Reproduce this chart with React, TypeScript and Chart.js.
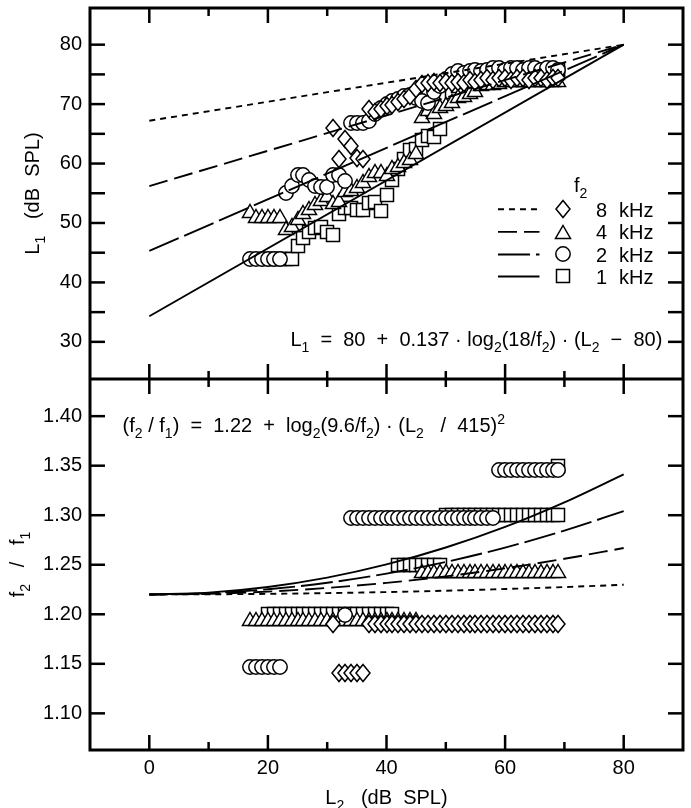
import React, { useEffect, useRef } from "react";
import { Chart, registerables } from "chart.js";

Chart.register(...registerables);

const FONT = '"Liberation Sans", Arial, Helvetica, sans-serif';

// ---------- axis ticks ----------
const xTickValues = [0, 10, 20, 30, 40, 50, 60, 70, 80];
const xTickLabels = ["0", "", "20", "", "40", "", "60", "", "80"];
const y1TickValues = [30, 35, 40, 45, 50, 55, 60, 65, 70, 75, 80];
const y1TickLabels = ["30", "", "40", "", "50", "", "60", "", "70", "", "80"];
const y2TickValues = [1.1, 1.15, 1.2, 1.25, 1.3, 1.35, 1.4];
const y2TickLabels = ["1.10", "1.15", "1.20", "1.25", "1.30", "1.35", "1.40"];

// ---------- top panel model lines (L1 vs L2) ----------
const lineL2 = [0, 80];
const line8kL1 = [67.2, 80];
const line4kL1 = [56.2, 80];
const line2kL1 = [45.3, 80];
const line1kL1 = [34.3, 80];

// ---------- bottom panel model curves (f2/f1 vs L2) ----------
const curveL2 = [0, 10, 20, 30, 40, 50, 60, 70, 80];
const curve8kRatio = [1.22, 1.2202, 1.2206, 1.2214, 1.2224, 1.2238, 1.2255, 1.2275, 1.2298];
const curve4kRatio = [1.22, 1.2207, 1.2229, 1.2266, 1.2317, 1.2383, 1.2464, 1.256, 1.2669];
const curve2kRatio = [1.22, 1.2213, 1.2253, 1.2318, 1.241, 1.2528, 1.2673, 1.2845, 1.3041];
const curve1kRatio = [1.22, 1.2219, 1.2276, 1.237, 1.2503, 1.2674, 1.2882, 1.313, 1.3413];

// ---------- 8 kHz (diamonds) ----------
const top8kL2 = [31, 32, 33, 34, 35, 36, 37, 38, 39, 40, 41, 42, 43, 44, 45, 46, 47, 48, 49, 50, 51, 52, 53, 54, 55, 56, 57, 58, 59, 60, 61, 62, 63, 64, 65, 66, 67, 68, 69];
const top8kL1 = [66.0, 60.8, 64.1, 63.0, 61.0, 60.8, 69.1, 68.6, 69.1, 69.7, 69.9, 70.3, 70.8, 71.3, 72.5, 73.3, 73.6, 73.8, 73.6, 73.8, 73.6, 73.8, 73.6, 74.1, 73.8, 74.1, 74.4, 74.1, 74.4, 74.4, 74.1, 74.4, 74.4, 74.1, 74.4, 74.4, 74.1, 74.4, 74.4];
const bot8kL2 = [31, 32, 33, 34, 35, 36, 37, 38, 39, 40, 41, 42, 43, 44, 45, 46, 47, 48, 49, 50, 51, 52, 53, 54, 55, 56, 57, 58, 59, 60, 61, 62, 63, 64, 65, 66, 67, 68, 69];
const bot8kRatio = [1.19, 1.141, 1.141, 1.141, 1.141, 1.141, 1.19, 1.19, 1.19, 1.19, 1.19, 1.19, 1.19, 1.19, 1.19, 1.19, 1.19, 1.19, 1.19, 1.19, 1.19, 1.19, 1.19, 1.19, 1.19, 1.19, 1.19, 1.19, 1.19, 1.19, 1.19, 1.19, 1.19, 1.19, 1.19, 1.19, 1.19, 1.19, 1.19];

// ---------- 4 kHz (triangles) ----------
const top4kL2 = [17, 18, 19, 20, 21, 22, 23, 24, 25, 26, 27, 28, 29, 30, 31, 32, 33, 34, 35, 36, 37, 38, 39, 40, 41, 42, 43, 44, 45, 46, 47, 48, 49, 50, 51, 52, 53, 54, 55, 56, 57, 58, 59, 60, 61, 62, 63, 64, 65, 66, 67, 68, 69];
const top4kL1 = [52.0, 51.1, 51.1, 51.1, 51.1, 51.1, 49.1, 49.7, 50.8, 51.9, 52.5, 53.3, 54.0, 54.7, 53.6, 53.8, 55.5, 55.8, 56.3, 57.0, 58.0, 58.8, 58.8, 58.3, 59.4, 59.7, 60.5, 61.0, 61.9, 68.0, 69.1, 68.6, 69.7, 70.0, 70.5, 71.3, 71.6, 72.0, 72.4, 73.3, 73.6, 73.6, 73.8, 74.1, 74.1, 74.1, 74.1, 74.1, 74.1, 74.1, 74.1, 74.1, 74.1];
const bot4kL2 = [17, 18, 19, 20, 21, 22, 23, 24, 25, 26, 27, 28, 29, 30, 31, 32, 33, 34, 35, 36, 37, 38, 39, 40, 41, 42, 43, 44, 45, 46, 47, 48, 49, 50, 51, 52, 53, 54, 55, 56, 57, 58, 59, 60, 61, 62, 63, 64, 65, 66, 67, 68, 69];
const bot4kRatio = [1.195, 1.195, 1.195, 1.195, 1.195, 1.195, 1.195, 1.195, 1.195, 1.195, 1.195, 1.195, 1.195, 1.195, 1.195, 1.195, 1.195, 1.195, 1.195, 1.195, 1.195, 1.195, 1.195, 1.195, 1.195, 1.195, 1.195, 1.195, 1.195, 1.244, 1.244, 1.244, 1.244, 1.244, 1.244, 1.244, 1.244, 1.244, 1.244, 1.244, 1.244, 1.244, 1.244, 1.244, 1.244, 1.244, 1.244, 1.244, 1.244, 1.244, 1.244, 1.244, 1.244];

// ---------- 2 kHz (circles) ----------
const top2kL2 = [17, 18, 19, 20, 21, 22, 23, 24, 25, 26, 27, 28, 29, 30, 31, 32, 33, 34, 35, 36, 37, 38, 39, 40, 41, 42, 43, 44, 45, 46, 47, 48, 49, 50, 51, 52, 53, 54, 55, 56, 57, 58, 59, 60, 61, 62, 63, 64, 65, 66, 67, 68, 69];
const top2kL1 = [44.0, 44.0, 44.0, 44.0, 44.0, 44.0, 55.0, 56.3, 58.0, 58.0, 57.2, 56.3, 56.0, 56.0, 58.0, 58.0, 57.0, 66.9, 66.9, 66.9, 67.2, 68.3, 69.4, 70.0, 70.5, 70.8, 71.3, 71.6, 71.0, 70.5, 70.2, 72.0, 73.0, 74.2, 75.0, 75.5, 75.2, 75.5, 75.8, 75.5, 75.8, 76.1, 76.1, 75.8, 76.1, 76.1, 75.8, 76.1, 76.1, 75.8, 76.1, 76.1, 75.8];
const bot2kL2 = [17, 18, 19, 20, 21, 22, 33, 34, 35, 36, 37, 38, 39, 40, 41, 42, 43, 44, 45, 46, 47, 48, 49, 50, 51, 52, 53, 54, 55, 56, 57, 58, 59, 60, 61, 62, 63, 64, 65, 66, 67, 68, 69];
const bot2kRatio = [1.147, 1.147, 1.147, 1.147, 1.147, 1.147, 1.199, 1.297, 1.297, 1.297, 1.297, 1.297, 1.297, 1.297, 1.297, 1.297, 1.297, 1.297, 1.297, 1.297, 1.297, 1.297, 1.297, 1.297, 1.297, 1.297, 1.297, 1.297, 1.297, 1.297, 1.297, 1.297, 1.346, 1.346, 1.346, 1.346, 1.346, 1.346, 1.346, 1.346, 1.346, 1.346, 1.346];

// ---------- 1 kHz (squares) ----------
const top1kL2 = [20, 21, 22, 23, 24, 25, 26, 27, 28, 29, 30, 31, 32, 33, 34, 35, 36, 37, 38, 39, 40, 41, 42, 43, 44, 45, 46, 47, 48, 49, 50, 51, 52, 53, 54, 55, 56, 57, 58, 59, 60, 61, 62, 63, 64, 65, 66, 67, 68, 69, 69];
const top1kL1 = [44.0, 44.0, 44.0, 44.0, 44.0, 46.1, 47.5, 48.4, 49.1, 49.3, 48.5, 48.0, 51.5, 52.6, 52.6, 52.2, 52.2, 53.3, 53.6, 52.0, 54.7, 57.2, 59.1, 60.8, 62.2, 62.4, 64.0, 64.7, 64.4, 65.8, 71.0, 72.0, 73.0, 73.8, 74.4, 74.7, 75.0, 75.0, 75.2, 75.2, 75.2, 75.2, 75.2, 75.2, 75.2, 75.2, 75.2, 75.2, 75.2, 75.2, 75.8];
const bot1kL2 = [20, 21, 22, 23, 24, 25, 26, 27, 28, 29, 30, 31, 32, 33, 34, 35, 36, 37, 38, 39, 40, 41, 42, 43, 44, 45, 46, 47, 48, 49, 50, 51, 52, 53, 54, 55, 56, 57, 58, 59, 60, 61, 62, 63, 64, 65, 66, 67, 68, 69, 69];
const bot1kRatio = [1.2, 1.2, 1.2, 1.2, 1.2, 1.2, 1.2, 1.2, 1.2, 1.2, 1.2, 1.2, 1.2, 1.2, 1.2, 1.2, 1.2, 1.2, 1.2, 1.2, 1.2, 1.2, 1.25, 1.25, 1.25, 1.25, 1.25, 1.25, 1.25, 1.25, 1.3, 1.3, 1.3, 1.3, 1.3, 1.3, 1.3, 1.3, 1.3, 1.3, 1.3, 1.3, 1.3, 1.3, 1.3, 1.3, 1.3, 1.3, 1.3, 1.3, 1.35];

// ---------- legend ----------
const legendDigits = ["8", "4", "2", "1"];
const legendUnit = "kHz";

type Seg = [string, number]; // 0 normal, 1 subscript, 2 superscript

const DASH8 = [6, 5];
const DASH4 = [19, 7];
const DASH2 = [32, 6];
const DASH1: number[] = [];

function makeMarker(kind: string): HTMLCanvasElement {
  const c = document.createElement("canvas");
  c.width = 20;
  c.height = 20;
  const g = c.getContext("2d")!;
  g.fillStyle = "#fff";
  g.strokeStyle = "#000";
  g.lineWidth = 1.5;
  g.beginPath();
  if (kind === "diamond") {
    g.moveTo(10, 1.5);
    g.lineTo(17, 10);
    g.lineTo(10, 18.5);
    g.lineTo(3, 10);
    g.closePath();
  } else if (kind === "triangle") {
    g.moveTo(10, 3.5);
    g.lineTo(17.5, 16.5);
    g.lineTo(2.5, 16.5);
    g.closePath();
  } else if (kind === "circle") {
    g.arc(10, 10, 7.2, 0, Math.PI * 2);
  } else {
    g.rect(3.5, 3.5, 13, 13);
  }
  g.fill();
  g.stroke();
  return c;
}

function fontFor(kind: number, size: number) {
  return `${kind ? Math.round(size * 0.7) : size}px ${FONT}`;
}

function drawRich(ctx: CanvasRenderingContext2D, segs: Seg[], x: number, y: number, size: number, align: string) {
  let w = 0;
  for (const [t, k] of segs) {
    ctx.font = fontFor(k, size);
    w += ctx.measureText(t).width;
  }
  let cx = align === "center" ? x - w / 2 : align === "right" ? x - w : x;
  ctx.textAlign = "left";
  ctx.textBaseline = "alphabetic";
  for (const [t, k] of segs) {
    ctx.font = fontFor(k, size);
    const dy = k === 1 ? 0.3 * size : k === 2 ? -0.42 * size : 0;
    ctx.fillText(t, cx, y + 0.36 * size + dy);
    cx += ctx.measureText(t).width;
  }
}

const pts = (xs: number[], ys: number[]) => xs.map((x, i) => ({ x, y: ys[i] }));

export default function App() {
  const ref = useRef<HTMLCanvasElement>(null);

  useEffect(() => {
    const diamond = makeMarker("diamond");
    const triangle = makeMarker("triangle");
    const circle = makeMarker("circle");
    const square = makeMarker("square");

    const lineDs = (xs: number[], ys: number[], dash: number[], axis: string, curve: boolean) => ({
      type: "line",
      data: pts(xs, ys),
      yAxisID: axis,
      borderColor: "#000",
      borderWidth: 1.9,
      borderDash: dash,
      pointRadius: 0,
      showLine: true,
      fill: false,
      tension: curve ? 0.4 : 0,
      cubicInterpolationMode: curve ? "monotone" : "default",
    });
    const markDs = (xs: number[], ys: number[], img: HTMLCanvasElement, axis: string) => ({
      type: "scatter",
      data: pts(xs, ys),
      yAxisID: axis,
      pointStyle: img,
      pointRadius: 7,
      showLine: false,
    });

    const datasets: any[] = [
      lineDs(lineL2, line8kL1, DASH8, "y", false),
      lineDs(lineL2, line4kL1, DASH4, "y", false),
      lineDs(lineL2, line2kL1, DASH2, "y", false),
      lineDs(lineL2, line1kL1, DASH1, "y", false),
      lineDs(curveL2, curve8kRatio, DASH8, "y2", true),
      lineDs(curveL2, curve4kRatio, DASH4, "y2", true),
      lineDs(curveL2, curve2kRatio, DASH2, "y2", true),
      lineDs(curveL2, curve1kRatio, DASH1, "y2", true),
      markDs(top8kL2, top8kL1, diamond, "y"),
      markDs(bot8kL2, bot8kRatio, diamond, "y2"),
      markDs(top2kL2, top2kL1, circle, "y"),
      markDs(bot2kL2, bot2kRatio, circle, "y2"),
      markDs(top4kL2, top4kL1, triangle, "y"),
      markDs(bot4kL2, bot4kRatio, triangle, "y2"),
      markDs(top1kL2, top1kL1, square, "y"),
      markDs(bot1kL2, bot1kRatio, square, "y2"),
    ];

    const decor = {
      id: "decor",
      beforeDatasetsDraw(chart: any) {
        chart.ctx.imageSmoothingEnabled = false;
      },
      afterDraw(chart: any) {
        const { ctx, chartArea: ca } = chart;
        const xs = chart.scales.x;
        const ys = chart.scales.y;
        const ys2 = chart.scales.y2;
        const mid = ys2.top;
        ctx.save();
        ctx.imageSmoothingEnabled = false;
        ctx.strokeStyle = "#000";
        ctx.fillStyle = "#000";
        const seg = (x1: number, y1: number, x2: number, y2: number) => {
          ctx.beginPath();
          ctx.moveTo(x1, y1);
          ctx.lineTo(x2, y2);
          ctx.stroke();
        };
        ctx.setLineDash([]);
        ctx.lineWidth = 2.5;
        xTickValues.forEach((v, i) => {
          const px = xs.getPixelForValue(v);
          const len = xTickLabels[i] ? 15 : 8;
          seg(px, ca.top, px, ca.top + len);
          seg(px, mid, px, mid - len);
          seg(px, mid, px, mid + len);
          seg(px, ca.bottom, px, ca.bottom - len);
        });
        y1TickValues.forEach((v) => {
          const py = ys.getPixelForValue(v);
          seg(ca.left, py, ca.left + 15, py);
          seg(ca.right, py, ca.right - 15, py);
        });
        y2TickValues.forEach((v) => {
          const py = ys2.getPixelForValue(v);
          seg(ca.left, py, ca.left + 15, py);
          seg(ca.right, py, ca.right - 15, py);
        });
        ctx.lineWidth = 3;
        ctx.strokeRect(ca.left, ca.top, ca.right - ca.left, ca.bottom - ca.top);
        seg(ca.left, mid, ca.right, mid);

        // axis titles
        const midTop = (ys.top + ys.bottom) / 2;
        const midBot = (ys2.top + ys2.bottom) / 2;
        ctx.save();
        ctx.translate(32, midTop);
        ctx.rotate(-Math.PI / 2);
        drawRich(ctx, [["L", 0], ["1", 1], ["   (dB  SPL)", 0]], 0, 0, 20, "center");
        ctx.restore();
        ctx.save();
        ctx.translate(17, midBot);
        ctx.rotate(-Math.PI / 2);
        drawRich(ctx, [["f", 0], ["2", 1], ["   /   f", 0], ["1", 1]], 0, 0, 20, "center");
        ctx.restore();
        drawRich(ctx, [["L", 0], ["2", 1], ["   (dB  SPL)", 0]], (ca.left + ca.right) / 2, 797, 20, "center");

        // formulas
        drawRich(
          ctx,
          [["L", 0], ["1", 1], ["  =  80  +  0.137 · log", 0], ["2", 1], ["(18/f", 0], ["2", 1], [") · (L", 0], ["2", 1], ["  −  80)", 0]],
          xs.getPixelForValue(23.8),
          ys.getPixelForValue(30.5),
          20,
          "left"
        );
        drawRich(
          ctx,
          [["(f", 0], ["2", 1], [" / f", 0], ["1", 1], [")  =  1.22  +  log", 0], ["2", 1], ["(9.6/f", 0], ["2", 1], [") · (L", 0], ["2", 1], ["   /  415)", 0], ["2", 2]],
          xs.getPixelForValue(-4.5),
          ys2.getPixelForValue(1.391),
          20,
          "left"
        );

        // legend
        drawRich(ctx, [["f", 0], ["2", 1]], xs.getPixelForValue(71.6), ys.getPixelForValue(56.5), 20, "left");
        const rows = [52.3, 48.5, 44.7, 41.0];
        const dashes = [DASH8, DASH4, DASH2, DASH1];
        const marks = [diamond, triangle, circle, square];
        rows.forEach((rv, i) => {
          const py = ys.getPixelForValue(rv);
          ctx.lineWidth = 1.9;
          ctx.setLineDash(dashes[i]);
          seg(xs.getPixelForValue(58.8), py, xs.getPixelForValue(65.8), py);
          ctx.setLineDash([]);
          const mx = xs.getPixelForValue(69.7);
          ctx.drawImage(marks[i], Math.round(mx) - 10, Math.round(py) - 10);
          drawRich(ctx, [[legendDigits[i], 0]], xs.getPixelForValue(77.2), py, 20, "right");
          drawRich(ctx, [[legendUnit, 0]], xs.getPixelForValue(79.2), py, 20, "left");
        });
        ctx.restore();
      },
    };

    const noPad = (s: any) => {
      s.paddingTop = 0;
      s.paddingBottom = 0;
      s.paddingLeft = 0;
      s.paddingRight = 0;
    };

    const chart = new Chart(ref.current!, {
      type: "scatter",
      data: { datasets },
      options: {
        responsive: false,
        animation: false,
        events: [],
        layout: { padding: { top: 1, right: 3, left: 0, bottom: 0 } },
        plugins: { legend: { display: false }, tooltip: { enabled: false } },
        scales: {
          x: {
            type: "linear",
            position: "bottom",
            min: -10,
            max: 90,
            grid: { display: false, drawTicks: false },
            border: { display: false },
            afterBuildTicks: (s: any) => {
              s.ticks = xTickValues.map((v) => ({ value: v }));
            },
            afterFit: (s: any) => {
              s.height = 58;
              noPad(s);
            },
            ticks: {
              color: "#000",
              font: { family: FONT, size: 20 },
              padding: 6,
              maxRotation: 0,
              autoSkip: false,
              callback: (_v: any, i: number) => xTickLabels[i],
            },
          },
          y: {
            type: "linear",
            position: "left",
            stack: "panels",
            stackWeight: 1,
            weight: 2,
            min: 23.75,
            max: 86.17,
            grid: { display: false, drawTicks: false },
            border: { display: false },
            afterBuildTicks: (s: any) => {
              s.ticks = y1TickValues.map((v) => ({ value: v }));
            },
            afterFit: (s: any) => {
              s.width = 90;
              noPad(s);
            },
            ticks: {
              color: "#000",
              font: { family: FONT, size: 20 },
              padding: 8,
              autoSkip: false,
              callback: (_v: any, i: number) => y1TickLabels[i],
            },
          },
          y2: {
            type: "linear",
            position: "left",
            stack: "panels",
            stackWeight: 1,
            weight: 1,
            min: 1.063,
            max: 1.4375,
            grid: { display: false, drawTicks: false },
            border: { display: false },
            afterBuildTicks: (s: any) => {
              s.ticks = y2TickValues.map((v) => ({ value: v }));
            },
            afterFit: (s: any) => {
              s.width = 90;
              noPad(s);
            },
            ticks: {
              color: "#000",
              font: { family: FONT, size: 20 },
              padding: 8,
              autoSkip: false,
              callback: (_v: any, i: number) => y2TickLabels[i],
            },
          },
        },
      } as any,
      plugins: [decor],
    } as any);
    return () => chart.destroy();
  }, []);

  return (
    <div style={{ position: "absolute", left: 0, top: 0, width: 691, height: 808, background: "#fff" }}>
      <canvas ref={ref} width={691} height={808} style={{ display: "block" }} />
    </div>
  );
}
